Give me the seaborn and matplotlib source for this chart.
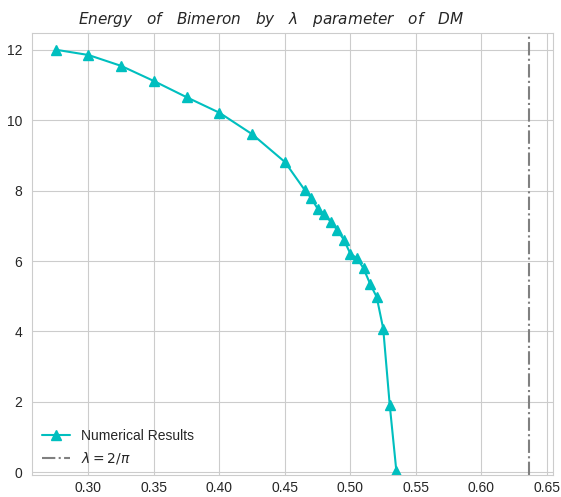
import numpy as np
import matplotlib
matplotlib.use("Agg")
import matplotlib.pyplot as plt
import seaborn as sns

# DM parameter lambda and the corresponding bimeron energy
lam = [0.275, 0.300, 0.325, 0.350, 0.375, 0.400, 0.425, 0.450, 0.465, 0.470,
       0.475, 0.480, 0.485, 0.490, 0.495, 0.500, 0.505, 0.510, 0.515, 0.520,
       0.525, 0.530, 0.535]
energy = [12.00, 11.85, 11.54, 11.11, 10.65, 10.21, 9.60, 8.81, 8.02, 7.79,
          7.48, 7.34, 7.11, 6.88, 6.60, 6.20, 6.08, 5.79, 5.35, 4.98,
          4.08, 1.90, 0.05]
critical = 2 / np.pi

sns.set_style("whitegrid")
plt.rcParams["font.family"] = ["Liberation Sans", "DejaVu Sans"]
plt.rcParams["mathtext.fontset"] = "dejavusans"

fig, ax = plt.subplots(figsize=(5.61, 4.97), dpi=100)
fig.subplots_adjust(left=0.057, right=0.986, top=0.934, bottom=0.044)

sns.lineplot(x=lam, y=energy, ax=ax, color="c", marker="^", markersize=7,
             markeredgecolor="c", markeredgewidth=1, linewidth=1.5,
             label="Numerical Results")
ax.axvline(critical, color="gray", linestyle="-.", linewidth=1.5,
           label=r"$\lambda = 2/\pi$")

ax.set_ylim(-0.08, 12.48)
ax.set_xticks([0.30, 0.35, 0.40, 0.45, 0.50, 0.55, 0.60, 0.65])
ax.set_xticklabels(["0.30", "0.35", "0.40", "0.45", "0.50", "0.55", "0.60", "0.65"])
ax.set_yticks([0, 2, 4, 6, 8, 10, 12])
ax.tick_params(labelsize=10)
ax.tick_params(axis="x", pad=1)
ax.set_title(r"$Energy\ \ \ of\ \ \ Bimeron\ \ \ by\ \ \ \lambda\ \ \ parameter\ \ \ of\ \ \ DM$",
             fontsize=11, x=0.458)
ax.legend(loc="lower left", frameon=False, fontsize=10,
          bbox_to_anchor=(-0.004, -0.008))

fig.savefig("out.png", dpi=100)
